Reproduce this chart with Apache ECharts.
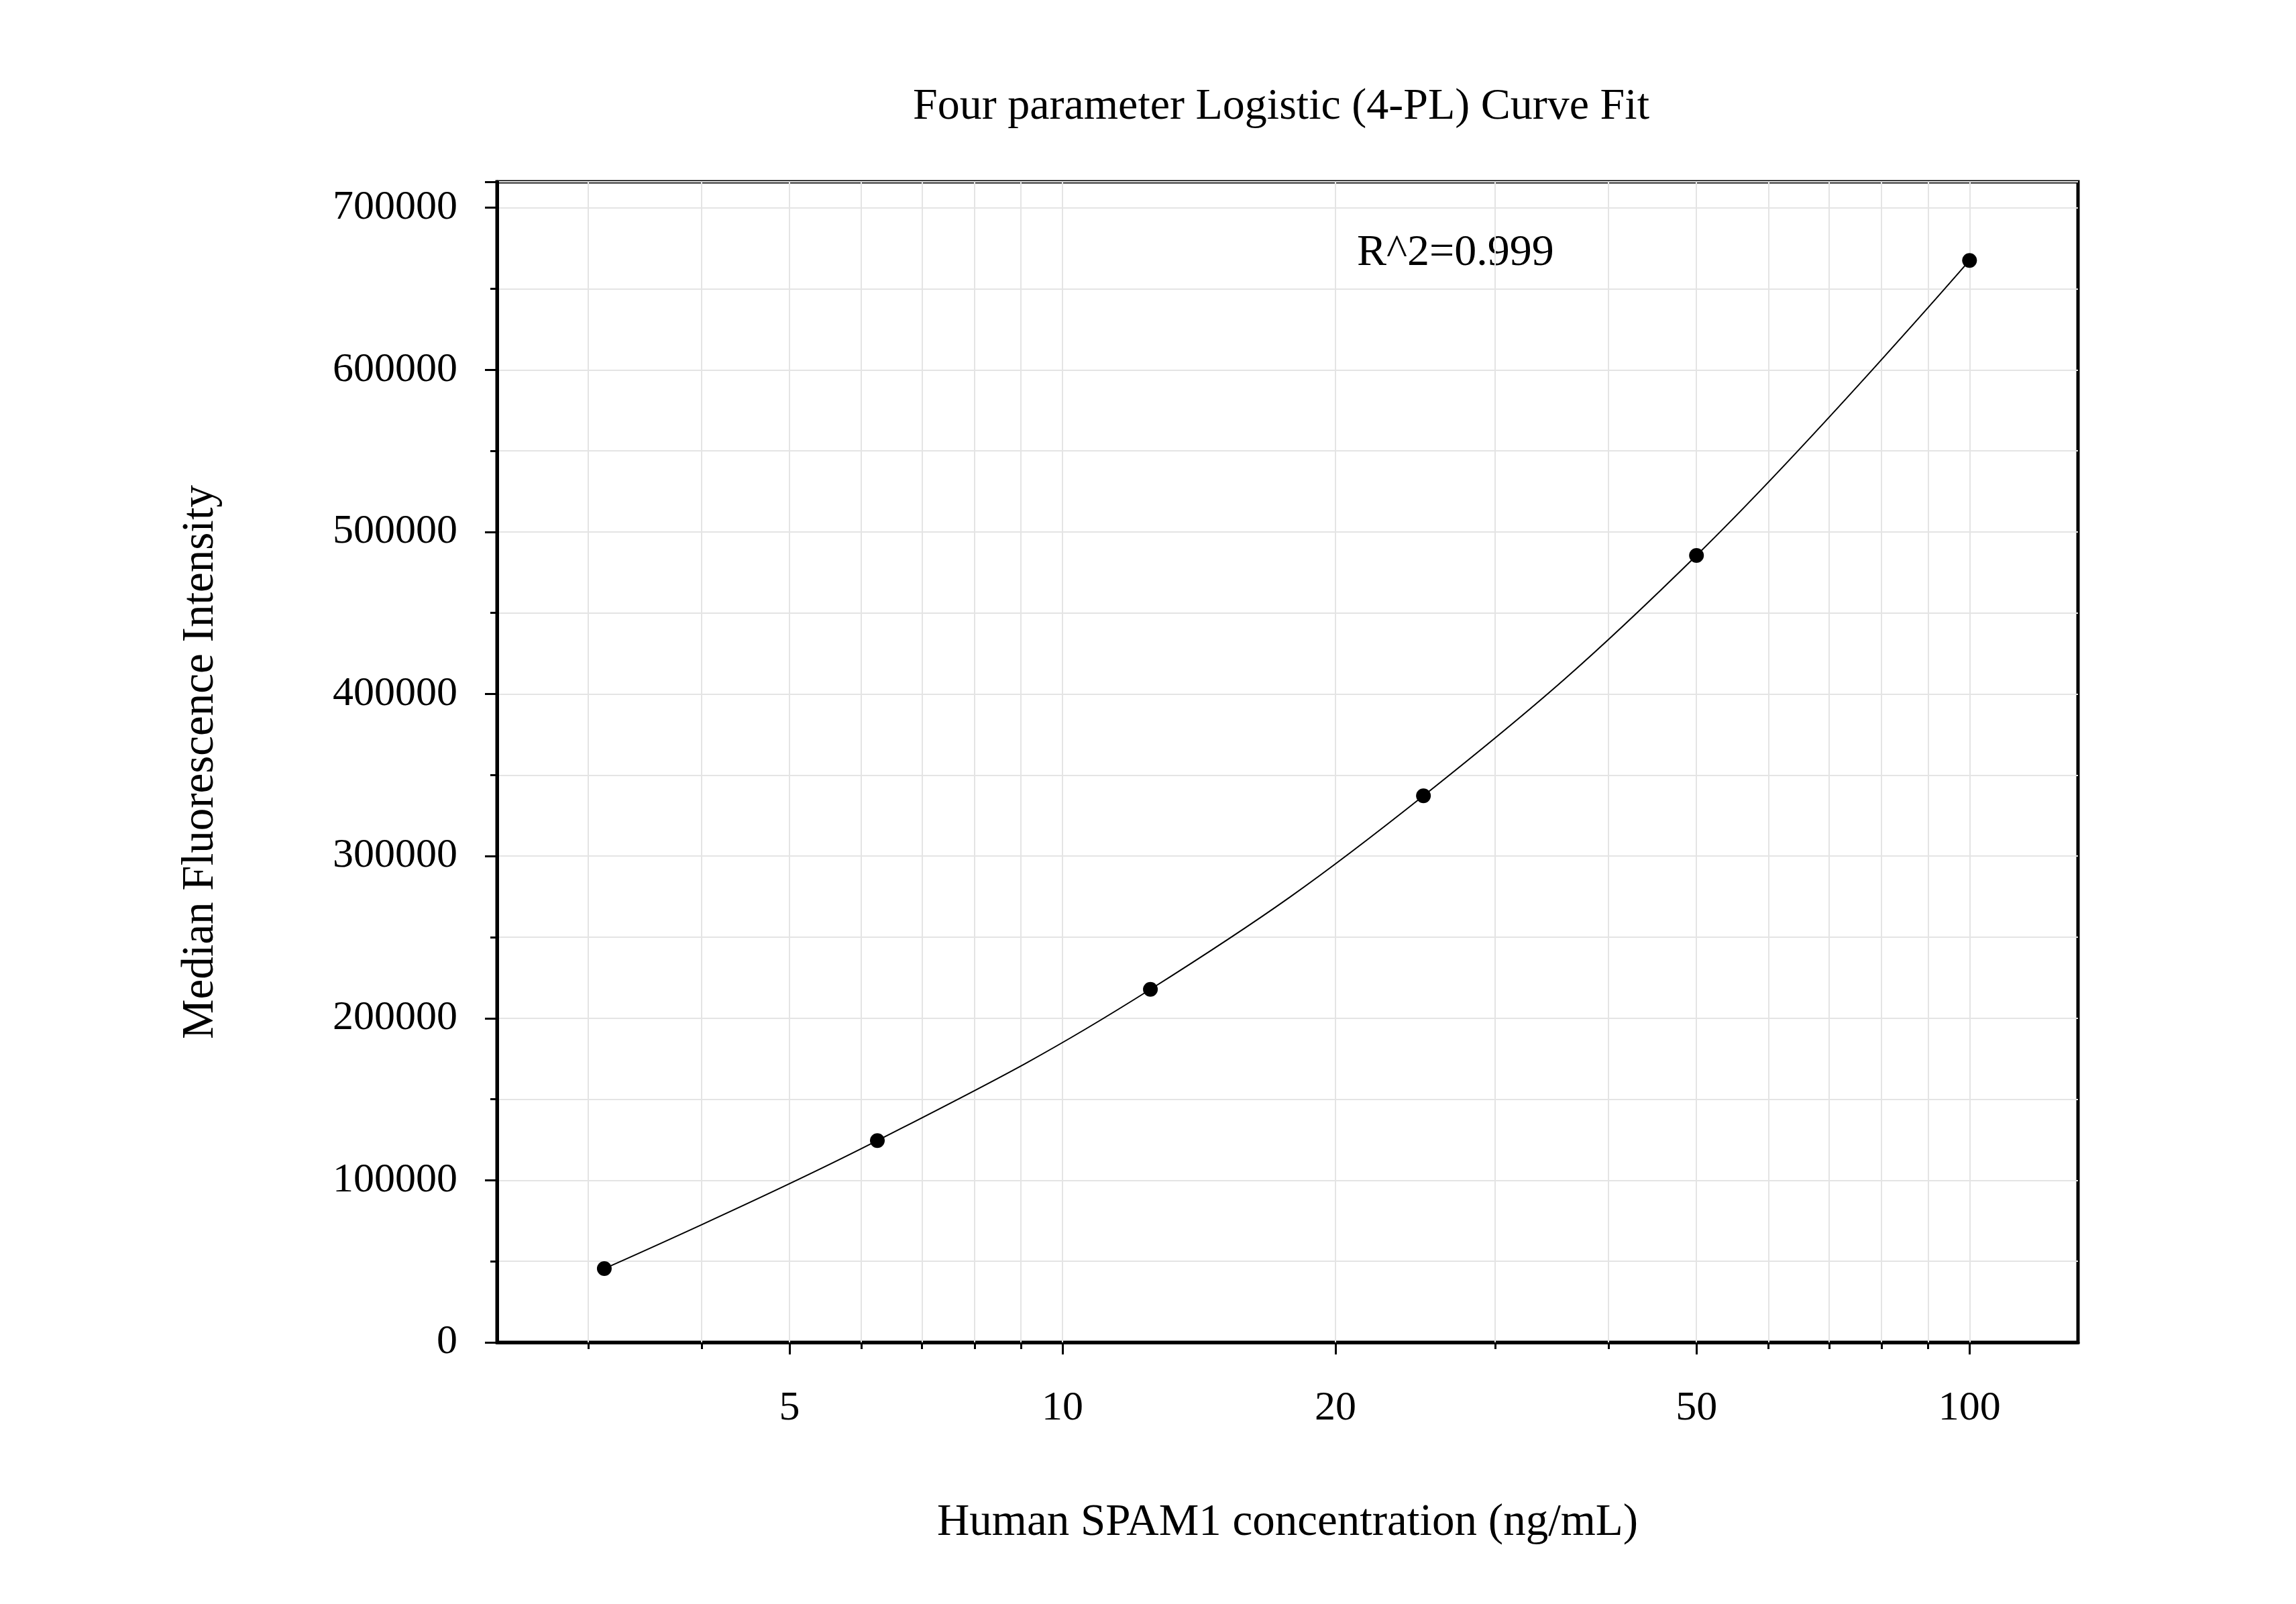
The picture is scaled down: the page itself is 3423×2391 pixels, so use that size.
<!DOCTYPE html>
<html>
<head>
<meta charset="utf-8">
<script src="https://cdn.jsdelivr.net/npm/echarts@6/dist/echarts.min.js"></script>
<style>html,body{margin:0;padding:0;background:#fff}#chart{width:3423px;height:2391px}</style>
</head>
<body>
<div id="chart"></div>
<script>
const concentrations = [3.125, 6.25, 12.5, 25, 50, 100];
const intensities = [45500, 124500, 217800, 337200, 485500, 667500];
const xLabelValues = [5, 10, 20, 50, 100];
const xMinorValues = [3, 4, 6, 7, 8, 9, 30, 40, 60, 70, 80, 90];
const xGridValues = [3, 4, 5, 6, 7, 8, 9, 10, 20, 30, 40, 50, 60, 70, 80, 90, 100];
const font = "Liberation Serif";

const chart = echarts.init(document.getElementById("chart"));
chart.setOption({
  backgroundColor: "#fff",
  animation: false,
  title: {
    text: "Four parameter Logistic (4-PL) Curve Fit",
    left: 1905, top: 122, textAlign: "center",
    textStyle: { fontFamily: font, fontSize: 66, fontWeight: "normal", color: "#000" }
  },
  graphic: [{
    type: "text", left: 2023, top: 345,
    style: { text: "R^2=0.999", font: "66px 'Liberation Serif'", fill: "#000" }
  }],
  grid: {
    left: 741, right: 325, top: 271, bottom: 390,
    show: true, borderColor: "#000", borderWidth: 5
  },
  xAxis: [{
    type: "log", min: 2.38, max: 131.7,
    name: "Human SPAM1 concentration (ng/mL)", nameLocation: "middle", nameGap: 236,
    nameTextStyle: { fontFamily: font, fontSize: 67, color: "#000" },
    axisLine: { lineStyle: { color: "#000", width: 5 } },
    axisTick: { customValues: xLabelValues, length: 18, lineStyle: { color: "#000", width: 3 } },
    axisLabel: { customValues: xLabelValues, margin: 68, fontFamily: font, fontSize: 62, color: "#000" },
    splitLine: { show: false }
  }, {
    type: "log", min: 2.38, max: 131.7, position: "bottom",
    axisLine: { show: false },
    axisTick: { customValues: xMinorValues, length: 10, lineStyle: { color: "#000", width: 3 } },
    axisLabel: { show: false },
    splitLine: { show: false }
  }],
  yAxis: {
    type: "value", min: 0, max: 716000, interval: 100000,
    name: "Median Fluorescence Intensity", nameLocation: "middle", nameGap: 408,
    nameTextStyle: { fontFamily: font, fontSize: 67, color: "#000" },
    axisLine: { show: true, lineStyle: { color: "#000", width: 5 } },
    axisTick: { length: 18, lineStyle: { color: "#000", width: 3 } },
    minorTick: { show: true, splitNumber: 2, length: 10, lineStyle: { color: "#000", width: 3 } },
    axisLabel: { margin: 59, fontFamily: font, fontSize: 62, color: "#000", formatter: v => String(v) },
    splitLine: { show: true, lineStyle: { color: "#e4e4e4", width: 2 } },
    minorSplitLine: { show: true, lineStyle: { color: "#e4e4e4", width: 2 } }
  },
  series: [{
    type: "line",
    data: concentrations.map((c, i) => [c, intensities[i]]),
    smooth: 0.4,
    symbol: "circle", symbolSize: 22,
    itemStyle: { color: "#000" },
    lineStyle: { color: "#000", width: 2 },
    markLine: {
      silent: true, symbol: "none", label: { show: false },
      lineStyle: { color: "#e4e4e4", width: 2, type: "solid" },
      data: xGridValues.map(v => ({ xAxis: v }))
    },
    z: 5
  }]
});
</script>
</body>
</html>
